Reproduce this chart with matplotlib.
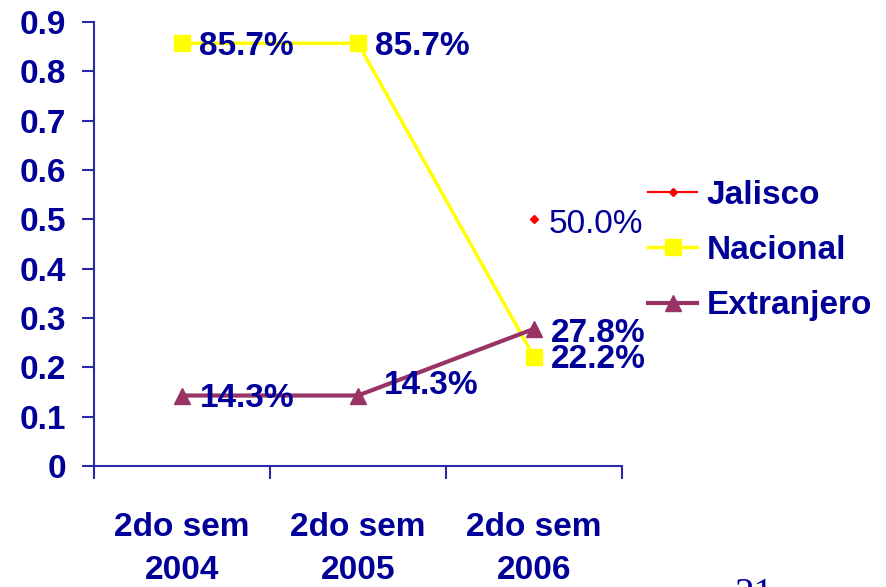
import matplotlib.pyplot as plt

# Datos por semestre
periodos = ["2do sem\n2004", "2do sem\n2005", "2do sem\n2006"]
jalisco = [None, None, 0.500]
nacional = [0.857, 0.857, 0.222]
extranjero = [0.143, 0.143, 0.278]

azul = "#000099"
eje = "#2a2aa8"
plt.rcParams["font.family"] = ["Liberation Sans", "DejaVu Sans"]

fig = plt.figure(figsize=(8.87, 5.87), dpi=100)
ax = fig.add_axes([0.106, 0.206, 0.595, 0.7565])

x = range(len(periodos))
xj = [i for i, v in zip(x, jalisco) if v is not None]
yj = [v for v in jalisco if v is not None]

ax.plot(xj, yj, color="red", lw=1.5, marker="D", ms=4, label="Jalisco")
ax.plot(x, nacional, color="#ffff00", lw=2.5, marker="s", ms=12, label="Nacional")
ax.plot(x, extranjero, color="#993366", lw=3, marker="^", ms=12, label="Extranjero")

# Etiquetas de valores
etq = dict(color=azul, fontsize=24, fontweight="bold", va="center", ha="left",
           textcoords="offset points")
for i, v in enumerate(nacional):
    ax.annotate(f"{v*100:.1f}%", (i, v), xytext=(12, -2), **etq)
desp = [(13, -2), (19, 7), (12, -3)]
for i, v in enumerate(extranjero):
    ax.annotate(f"{v*100:.1f}%", (i, v), xytext=desp[i], **etq)
ax.annotate(f"{jalisco[2]*100:.1f}%", (2, jalisco[2]), xytext=(11, -4),
            textcoords="offset points", color=azul, fontsize=24,
            va="center", ha="left")

ax.set_xlim(-0.5, 2.5)
ax.set_ylim(0, 0.9)
ax.set_yticks([0, 0.1, 0.2, 0.3, 0.4, 0.5, 0.6, 0.7, 0.8, 0.9])
ax.set_yticklabels(["0", "0.1", "0.2", "0.3", "0.4", "0.5", "0.6", "0.7", "0.8", "0.9"])
ax.set_xticks([-0.5, 0.5, 1.5, 2.5])
ax.set_xticklabels([])
ax.set_xticks(list(x), minor=True)
ax.set_xticklabels(periodos, minor=True, linespacing=1.5)

ax.tick_params(axis="y", colors=eje, labelcolor=azul, labelsize=24, length=9,
               width=1.5, pad=11)
ax.tick_params(axis="x", which="major", colors=eje, length=9, width=1.5, direction="out")
ax.tick_params(axis="x", which="minor", length=0, labelcolor=azul, labelsize=24, pad=33)
for lbl in ax.get_yticklabels() + ax.get_xticklabels(minor=True):
    lbl.set_fontweight("bold")

for s in ["top", "right"]:
    ax.spines[s].set_visible(False)
for s in ["left", "bottom"]:
    ax.spines[s].set_color(eje)
    ax.spines[s].set_linewidth(1.5)

leg = fig.legend(loc="upper left", bbox_to_anchor=(0.731, 0.694), frameon=False,
                 fontsize=24, handlelength=1.45, handletextpad=0.3, labelspacing=0.73,
                 borderaxespad=0, borderpad=0)
for t in leg.get_texts():
    t.set_color(azul)
    t.set_fontweight("bold")

fig.text(0.828, 1 - 577 / 587, "21", family=["Liberation Serif", "DejaVu Serif"],
         fontsize=28, color=azul, va="top", ha="left")

fig.savefig("out.png", dpi=100)
